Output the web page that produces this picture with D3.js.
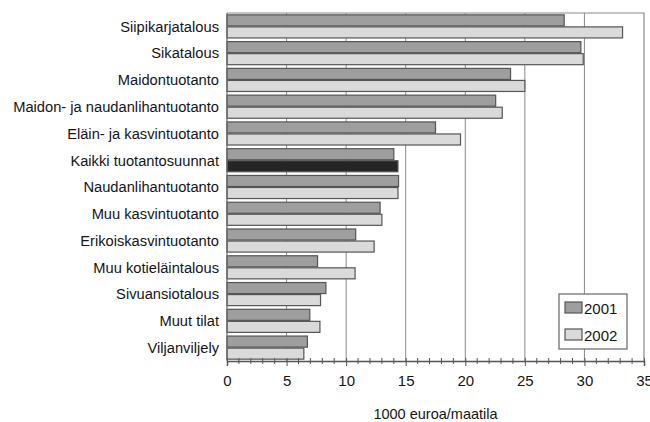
<!DOCTYPE html>
<html><head><meta charset="utf-8">
<script src="https://cdn.jsdelivr.net/npm/d3@7"></script>
<style>body{margin:0;background:#fff}svg{display:block}text{font-family:"Liberation Sans",Arial,sans-serif;fill:#151515}</style>
</head><body>
<svg id="c" width="650" height="422"></svg>
<script>
const categories = ["Siipikarjatalous","Sikatalous","Maidontuotanto","Maidon- ja naudanlihantuotanto","Eläin- ja kasvintuotanto","Kaikki tuotantosuunnat","Naudanlihantuotanto","Muu kasvintuotanto","Erikoiskasvintuotanto","Muu kotieläintalous","Sivuansiotalous","Muut tilat","Viljanviljely"];
const series = ["2001","2002"];
const values2001 = [28.3,29.7,23.8,22.55,17.5,14.0,14.4,12.85,10.8,7.6,8.3,6.95,6.75];
const values2002 = [33.2,29.9,25.0,23.1,19.6,14.35,14.35,13.0,12.35,10.75,7.85,7.8,6.45];
const xTicks = [0,5,10,15,20,25,30,35];
const xTitle = "1000 euroa/maatila";
const highlight = "Kaikki tuotantosuunnat";

const svg = d3.select("#c");
const L=227, R=644, T=13, B=361;
const x = d3.scaleLinear().domain([0,35]).range([L,R]);
const y = d3.scaleBand().domain(categories).range([T,B]).paddingInner(0.1).paddingOuter(0.05);
const ys = d3.scaleBand().domain(series).range([0,y.bandwidth()]);
const fills = {"2001":"#9e9e9e","2002":"#dadada"};

// grid
svg.append("g").selectAll("line").data(xTicks.filter(d=>d>0&&d<35)).join("line")
  .attr("x1",d=>x(d)).attr("x2",d=>x(d)).attr("y1",T).attr("y2",B)
  .attr("stroke","#8a8a8a").attr("stroke-width",1);

// bars
const rows = categories.map((c,i)=>({c, v:{"2001":values2001[i],"2002":values2002[i]}}));
const g = svg.append("g");
rows.forEach(r=>{
  series.forEach(s=>{
    g.append("rect")
      .attr("x",x(0)).attr("y",y(r.c)+ys(s)+0.5)
      .attr("width",x(r.v[s])-x(0)).attr("height",ys.bandwidth()-1)
      .attr("fill", (r.c===highlight && s==="2002") ? "#252525" : fills[s])
      .attr("stroke","#555").attr("stroke-width",1.2);
  });
});

// frame
svg.append("path").attr("d",`M${L},${T}H${R}V${B}`).attr("fill","none").attr("stroke","#8a8a8a").attr("stroke-width",1.2);
svg.append("line").attr("x1",L).attr("x2",L).attr("y1",T).attr("y2",B).attr("stroke","#666").attr("stroke-width",1.2);

// x axis
const ax = svg.append("g").attr("transform",`translate(0,${B})`)
  .call(d3.axisBottom(x).tickValues(xTicks).tickSize(5).tickPadding(9).tickFormat(d3.format("d")));
ax.select(".domain").attr("stroke","#555").attr("stroke-width",1.5);
ax.selectAll(".tick line").attr("stroke","#555").attr("y1",-3);
ax.selectAll("text").style("font-size","15px").attr("fill","#151515");
const minor = d3.range(0,36).filter(d=>d%5!==0);
svg.append("g").selectAll("line").data(minor).join("line")
  .attr("x1",d=>x(d)).attr("x2",d=>x(d)).attr("y1",B-3).attr("y2",B+3).attr("stroke","#555");

svg.append("text").attr("x",(L+R)/2).attr("y",419).attr("text-anchor","middle").style("font-size","14.5px").text(xTitle);

// category labels
svg.append("g").selectAll("text").data(categories).join("text")
  .attr("x",219).attr("y",d=>y(d)+y.bandwidth()/2).attr("dy","0.36em")
  .attr("text-anchor","end").style("font-size","14.7px").text(d=>d);

// legend
const lg = svg.append("g");
lg.append("rect").attr("x",559).attr("y",294).attr("width",68).attr("height",55).attr("fill","#fff").attr("stroke","#666").attr("stroke-width",1.2);
series.forEach((s,i)=>{
  lg.append("rect").attr("x",565).attr("y",302+i*27).attr("width",17).attr("height",11)
    .attr("fill",fills[s]).attr("stroke","#555").attr("stroke-width",1.2);
  lg.append("text").attr("x",584).attr("y",313+i*27+0.5).style("font-size","15px").text(s);
});
</script>
</body></html>
